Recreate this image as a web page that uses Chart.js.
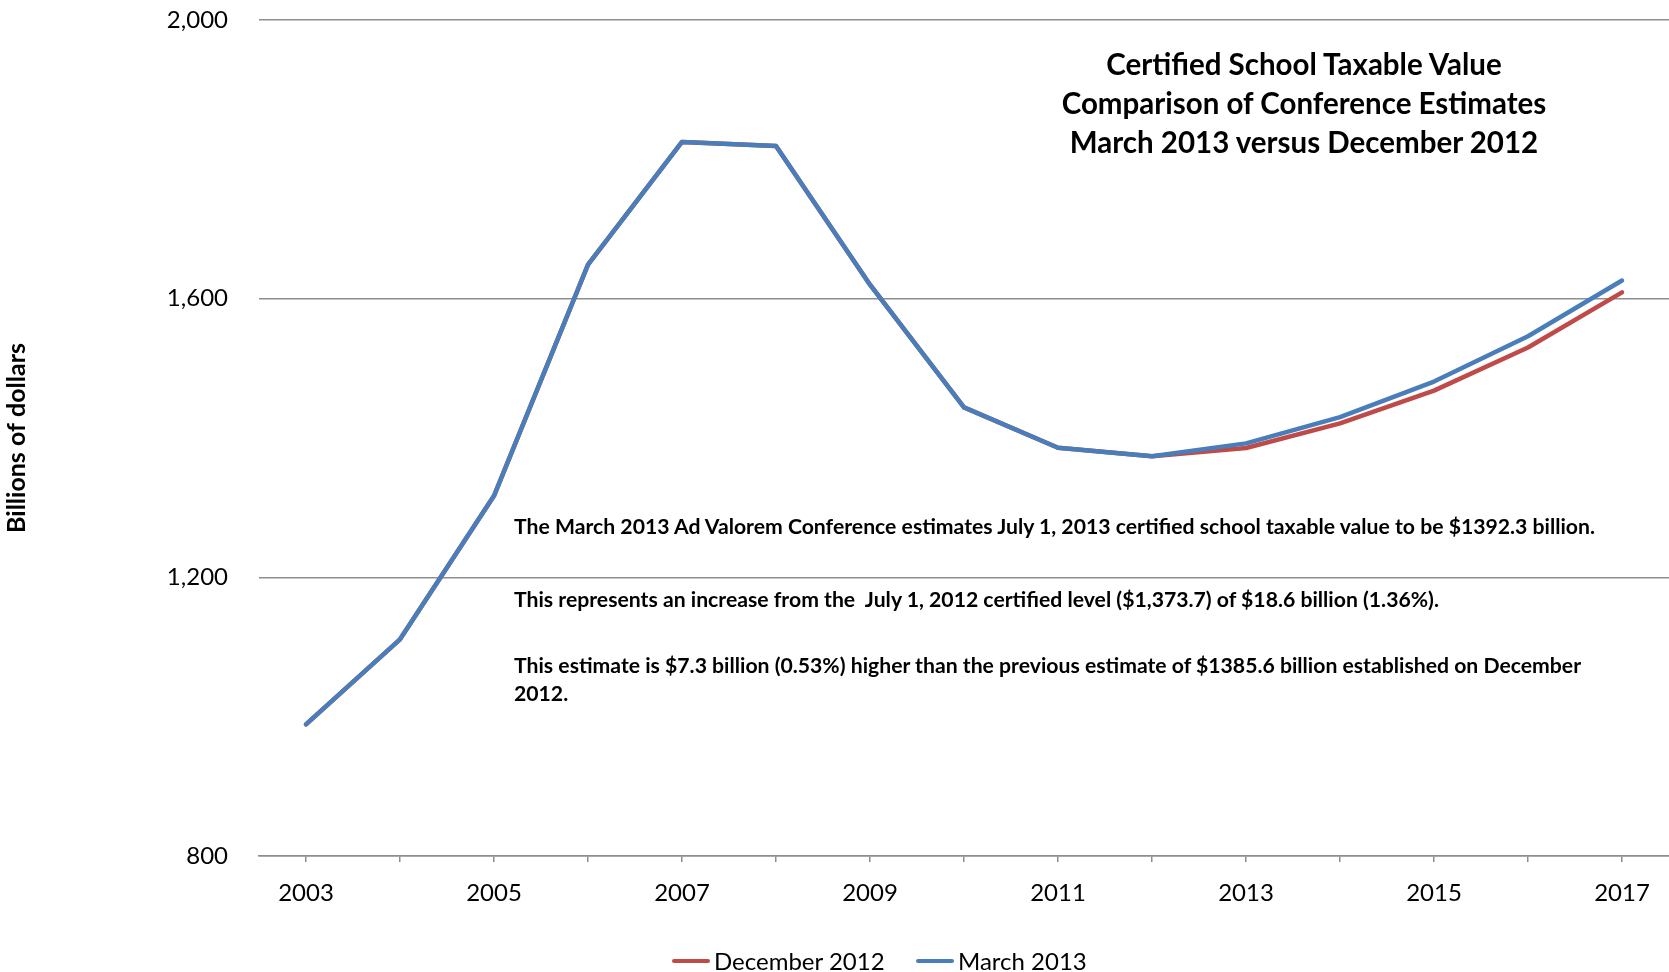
<!DOCTYPE html>
<html>
<head>
<meta charset="utf-8">
<script src="https://cdn.jsdelivr.net/npm/chart.js@4/dist/chart.umd.min.js"></script>
<style>
  body { margin: 0; background: #fff; }
  #wrap { position: relative; width: 1669px; height: 972px; font-family: Lato, sans-serif; color: #000; }
  #chart { position: absolute; left: 0; top: 0; }
  .title { position: absolute; left: 1004px; width: 600px; top: 44px; text-align: center; font-weight: bold; font-size: 29.5px; line-height: 39px; }
  .note { position: absolute; left: 514px; font-weight: bold; font-size: 21.2px; line-height: 27.5px; white-space: nowrap; }
  .lg-line { position: absolute; top: 959px; width: 38px; height: 4px; border-radius: 2px; }
  .lg-text { position: absolute; top: 946px; font-size: 24px; line-height: 30px; white-space: nowrap; }
</style>
</head>
<body>
<div id="wrap">
  <canvas id="chart" width="1669" height="972"></canvas>
  <div class="title">Certified School Taxable Value<br>Comparison of Conference Estimates<br>March 2013 versus December 2012</div>
  <div class="note" style="top:513px">The March 2013 Ad Valorem Conference estimates July 1, 2013 certified school taxable value to be $1392.3 billion.</div>
  <div class="note" style="top:586px">This represents an increase from the&nbsp; July 1, 2012 certified level ($1,373.7) of $18.6 billion (1.36%).</div>
  <div class="note" style="top:652px">This estimate is $7.3 billion (0.53%) higher than the previous estimate of $1385.6 billion established on December<br>2012.</div>
  <div id="legend"></div>
</div>
<script>
// 年（カテゴリ）
const years = ['2003', '2004', '2005', '2006', '2007', '2008', '2009', '2010', '2011', '2012', '2013', '2014', '2015', '2016', '2017'];
// 推計値（十億ドル）
const december2012 = [989, 1111, 1317, 1649, 1825, 1819, 1620, 1444, 1386, 1373.7, 1385.6, 1421, 1468, 1530, 1609];
const march2013 = [989, 1111, 1317, 1649, 1825, 1819, 1620, 1444, 1386, 1373.7, 1392.3, 1430, 1481, 1546, 1626];
// Y軸の目盛り
const yTicks = [800, 1200, 1600, 2000];

const gridColor = '#8e8e8e';
const red = '#BE4B48';
const blue = '#4A7EBB';

const chart = new Chart(document.getElementById('chart').getContext('2d'), {
    type: 'line',
    data: {
        labels: years,
        datasets: [
            // 青を上に描くため March を先に置く
            { label: 'March 2013', data: march2013, borderColor: blue, backgroundColor: blue, borderWidth: 4.5, pointRadius: 0, tension: 0, borderCapStyle: 'round', borderJoinStyle: 'round' },
            { label: 'December 2012', data: december2012, borderColor: red, backgroundColor: red, borderWidth: 4.5, pointRadius: 0, tension: 0, borderCapStyle: 'round', borderJoinStyle: 'round' }
        ]
    },
    options: {
        responsive: false,
        animation: false,
        layout: { padding: { left: 0, right: 0, top: 20, bottom: 0 } },
        plugins: {
            tooltip: { enabled: false },
            legend: { display: false }
        },
        scales: {
            x: {
                offset: true,
                afterFit(scale) { scale.height = 116; },
                grid: { display: true, drawOnChartArea: false, drawTicks: true, tickLength: 6, color: gridColor, lineWidth: 1.5, offset: false },
                border: { display: true, color: gridColor, width: 1.5 },
                ticks: {
                    autoSkip: false,
                    maxRotation: 0,
                    padding: 17,
                    color: '#000',
                    font: { family: 'Lato', size: 24 },
                    callback: (v, i) => (i % 2 === 0 ? years[i] : '')
                }
            },
            y: {
                min: yTicks[0],
                max: yTicks[yTicks.length - 1],
                afterFit(scale) {
                    scale.width = 259;
                    scale.paddingTop = 0;
                    scale.paddingBottom = 0;
                },
                afterBuildTicks(scale) { scale.ticks = yTicks.map(v => ({ value: v })); },
                grid: { color: gridColor, lineWidth: 1.5, drawTicks: false },
                border: { display: false },
                ticks: {
                    padding: 31,
                    color: '#000',
                    font: { family: 'Lato', size: 24 },
                    callback: v => v.toLocaleString('en-US')
                },
                title: {
                    display: true,
                    text: 'Billions of dollars',
                    color: '#000',
                    font: { family: 'Lato', size: 25, weight: 'bold' },
                    padding: { top: 2, bottom: 0 }
                }
            }
        }
    }
});

// 凡例（December → March の順）をHTMLで作る
const legendEl = document.getElementById('legend');
const legendX = [672, 916];
[1, 0].forEach((dsIndex, i) => {
    const ds = chart.data.datasets[dsIndex];
    const line = document.createElement('div');
    line.className = 'lg-line';
    line.style.left = legendX[i] + 'px';
    line.style.background = ds.borderColor;
    legendEl.appendChild(line);

    const txt = document.createElement('div');
    txt.className = 'lg-text';
    txt.style.left = (legendX[i] + 42) + 'px';
    txt.innerText = ds.label;
    legendEl.appendChild(txt);
});
</script>
</body>
</html>
